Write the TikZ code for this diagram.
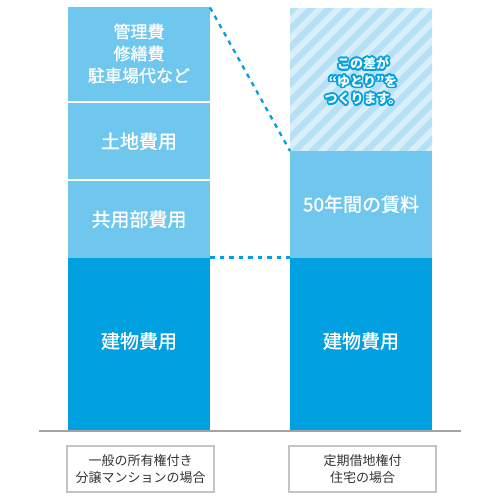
\documentclass[tikz,border=0pt]{standalone}
\usepackage{fontspec}
\setmainfont{Noto Sans CJK JP}
\newfontfamily\barfont[FakeBold=1]{Noto Sans CJK JP}
\usepackage{tikz}
\usetikzlibrary{positioning}
\definecolor{lightbar}{HTML}{6FC7EE}
\definecolor{darkbar}{HTML}{00A0E1}
\definecolor{stripeA}{HTML}{D8EFFA}
\definecolor{stripeB}{HTML}{B6E0F6}
\definecolor{basegray}{HTML}{A3A3A3}
\definecolor{boxgray}{HTML}{C4C4C4}
\definecolor{labeltext}{HTML}{333333}

\begin{document}
\begin{tikzpicture}
 [x=1pt, y=-1pt,
  bar/.style={inner sep=0pt, outer sep=0pt, minimum width=142pt, text=white, align=center,
   font=\barfont\fontsize{19}{24}\selectfont},
  light/.style={bar, fill=lightbar},
  dark/.style={bar, fill=darkbar},
  caption/.style={draw=boxgray, line width=1.2pt, minimum width=147pt, minimum height=46pt,
   inner sep=0pt, align=center, text=labeltext, font=\fontsize{13}{17}\selectfont},
  gap/.style={draw=darkbar, line width=2.3pt, dash pattern=on 4.5pt off 5pt},
  yutori/.style={inner sep=0pt, align=center, font=\bfseries\fontsize{13}{17.5}\selectfont}]
 \useasboundingbox (0,0) rectangle (500,500);
 % left column
 \node (kanri) [light, minimum height=94pt] at (139,54.5) {};
 \node (kanritext) [bar, font=\barfont\fontsize{17}{22}\selectfont] at (139,53.5) {管理費\\修繕費\\駐車場代など};
 \node (tochi) [light, minimum height=75.5pt] at (139,141.25) {土地費用};
 \node (kyoyo) [light, minimum height=76.5pt] at (139,219.25) {共用部費用};
 \node (tatemono) [dark, minimum height=172.5pt] at (139,343.75) {};
 \node (tatemonotext) [bar] at (139,341) {建物費用};
 % right column
 \node (hatch) [inner sep=0pt, outer sep=0pt, minimum width=142pt, minimum height=143pt, fill=stripeA] at (361,79.5) {};
 \begin{scope}
  \clip (hatch.north west) rectangle (hatch.south east);
  \foreach \s in {-10,...,9}
   \fill[stripeB] (290+\s*18,151) -- ++(9,0) -- ++(143,-143) -- ++(-9,0) -- cycle;
 \end{scope}
 \node (chinryo) [light, minimum height=106.5pt] at (361,204.25) {50年間の賃料};
 \node (tatemono2) [dark, minimum height=172.5pt] at (361,343.75) {};
 \node (tatemono2text) [bar] at (361,341) {建物費用};
 % yutori text with outline
 \foreach \a in {0,30,...,330}
  \node (rim\a) [yutori, text=darkbar, shift={(\a:1.8pt)}] at (363,81) {この差が\\“ゆとり”を\\つくります。};
 \node (yutori) [yutori, text=white] at (363,81) {この差が\\“ゆとり”を\\つくります。};
 % dashed connectors
 \draw[gap] (kanri.north east) -- (hatch.south west);
 \draw[gap] (kyoyo.south east) -- (tatemono2.north west);
 % base line
 \coordinate (base0) at (38.5,431);
 \coordinate (base1) at (461,431);
 \draw[basegray, line width=2.5pt] (base0) -- (base1);
 % captions
 \node (own) [caption] at (140.5,469) {一般の所有権付き\\分譲マンションの場合};
 \node (lease) [caption] at (362.5,469) {定期借地権付\\住宅の場合};
\end{tikzpicture}
\end{document}
